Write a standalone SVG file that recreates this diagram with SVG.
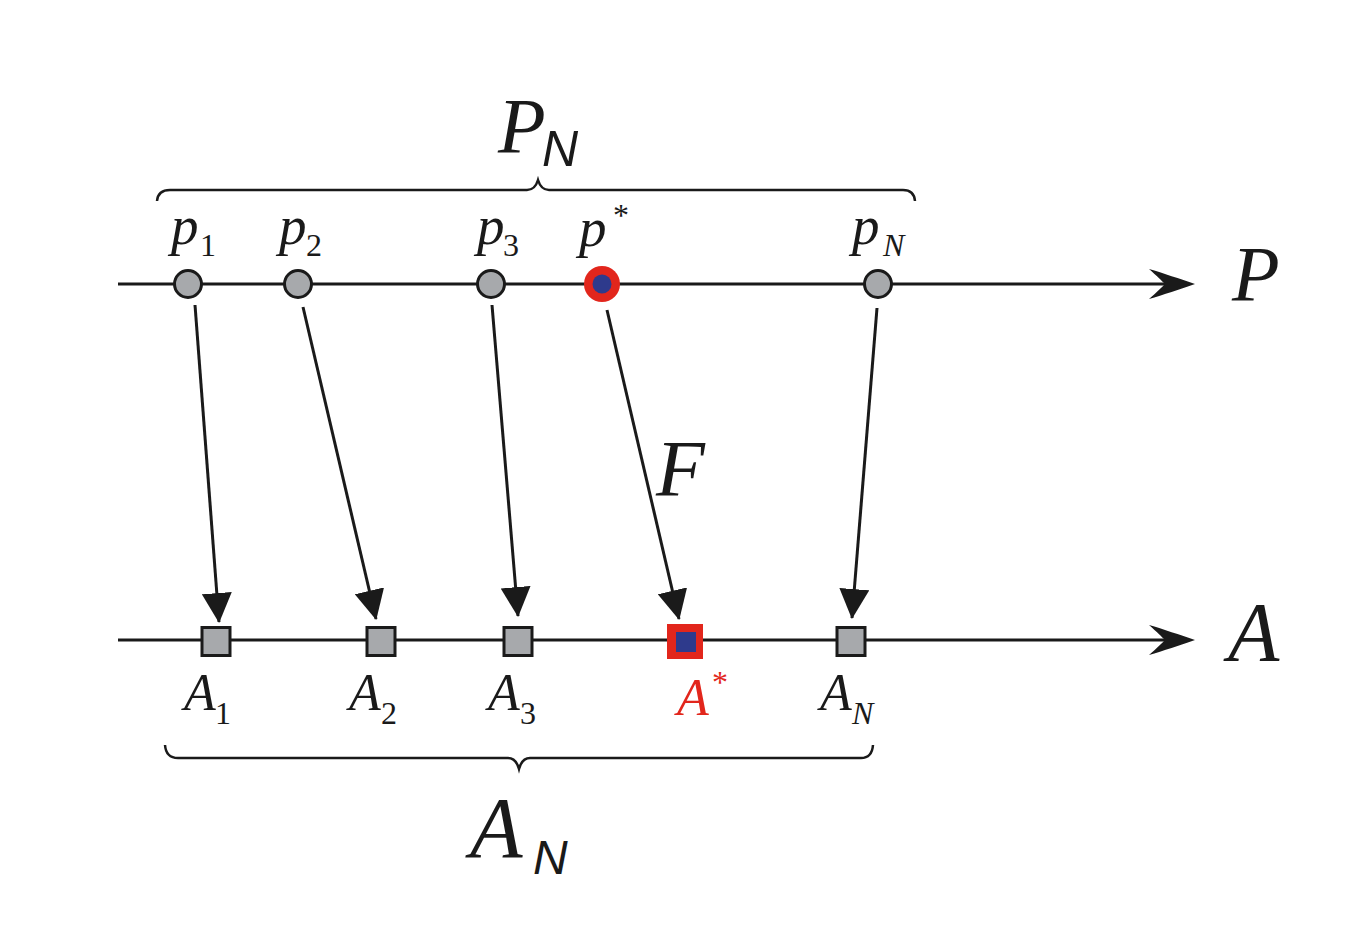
<svg xmlns="http://www.w3.org/2000/svg" width="1348" height="948" viewBox="0 0 1348 948">
<style>
.ax{stroke:#1a1a1a;stroke-width:3;fill:none}
.br{stroke:#1a1a1a;stroke-width:2.5;fill:none}
.cn{stroke:#1a1a1a;stroke-width:3;fill:none}
.pt{fill:#a7a9ac;stroke:#1a1a1a;stroke-width:3}
.lab{font-family:"Liberation Serif",serif;font-style:italic;fill:#1a1a1a}
.sub{font-family:"Liberation Serif",serif;font-style:normal;fill:#1a1a1a}
.cal{font-family:"Liberation Serif",serif;font-style:italic;fill:#1a1a1a}
.sn{font-family:"Liberation Sans",sans-serif;font-style:italic;fill:#1a1a1a}
.red{fill:#e2261c}
.blue{fill:#2e3a8c}
</style>
<defs>
<marker id="ah" markerUnits="userSpaceOnUse" markerWidth="30" markerHeight="30" viewBox="0 0 28 28" refX="27" refY="14" orient="auto">
<path d="M0,0 L28,14 L0,28 Z" fill="#1a1a1a"/>
</marker>
</defs>
<rect width="1348" height="948" fill="#ffffff"/>

<g id="axis-P">
<line class="ax" x1="118" y1="284" x2="1170" y2="284"/>
<path d="M1195,284 C1180,279 1163,273 1149,269 C1157,276 1162,281 1165,284 C1162,287 1157,292 1149,299 C1163,295 1180,289 1195,284 Z" fill="#1a1a1a"/>
<text class="cal" x="1232" y="300" font-size="78">P</text>
</g>
<g id="axis-A">
<line class="ax" x1="118" y1="640" x2="1170" y2="640"/>
<path d="M1195,640 C1180,635 1163,629 1149,625 C1157,632 1162,637 1165,640 C1162,643 1157,648 1149,655 C1163,651 1180,645 1195,640 Z" fill="#1a1a1a"/>
<text class="cal" x="1228" y="661" font-size="84">A</text>
</g>

<g id="brace-PN">
<path class="br" d="M157,201 Q158,190 170,190 L527,190 Q535,190 538,180 Q541,190 549,190 L903,190 Q914,190 915,201"/>
<text class="cal" x="498" y="152" font-size="78">P</text>
<text class="sn" x="542" y="166" font-size="50">N</text>
</g>
<g id="brace-AN">
<path class="br" d="M165,745 Q166,758 178,758 L508,758 Q516,758 519,769 Q522,758 530,758 L861,758 Q872,758 873,745"/>
<text class="cal" x="470" y="857" font-size="86">A</text>
<text class="sn" x="533" y="874" font-size="48">N</text>
</g>

<g id="connectors">
<line class="cn" x1="195" y1="305" x2="219" y2="622" marker-end="url(#ah)"/>
<line class="cn" x1="303" y1="307" x2="376" y2="619" marker-end="url(#ah)"/>
<line class="cn" x1="492" y1="305" x2="518" y2="616" marker-end="url(#ah)"/>
<line class="cn" x1="607" y1="310" x2="679" y2="619" marker-end="url(#ah)"/>
<line class="cn" x1="877" y1="308" x2="852" y2="618" marker-end="url(#ah)"/>
<text class="lab" x="656" y="496" font-size="80">F</text>
</g>

<g id="p1">
<circle class="pt" cx="188" cy="284" r="13.5"/>
<text class="lab" x="171" y="244" font-size="55">p</text>
<text class="sub" x="200" y="256" font-size="32">1</text>
</g>
<g id="p2">
<circle class="pt" cx="298" cy="284" r="13.5"/>
<text class="lab" x="279" y="244" font-size="55">p</text>
<text class="sub" x="306" y="256" font-size="32">2</text>
</g>
<g id="p3">
<circle class="pt" cx="491" cy="284" r="13.5"/>
<text class="lab" x="477" y="244" font-size="55">p</text>
<text class="sub" x="503" y="256" font-size="32">3</text>
</g>
<g id="pstar">
<circle class="red" cx="602" cy="284" r="18"/>
<circle class="blue" cx="602" cy="284" r="9.5"/>
<text class="lab" x="579" y="246" font-size="55">p</text>
<text class="sub" x="613" y="226" font-size="32">*</text>
</g>
<g id="pN">
<circle class="pt" cx="878" cy="284" r="13.5"/>
<text class="lab" x="852" y="244" font-size="55">p</text>
<text class="lab" x="883" y="256" font-size="32">N</text>
</g>

<g id="A1">
<rect class="pt" x="202" y="627.5" width="28" height="28"/>
<text class="lab" x="184" y="710" font-size="52">A</text>
<text class="sub" x="215" y="724" font-size="32">1</text>
</g>
<g id="A2">
<rect class="pt" x="367" y="627.5" width="28" height="28"/>
<text class="lab" x="349" y="710" font-size="52">A</text>
<text class="sub" x="381" y="724" font-size="32">2</text>
</g>
<g id="A3">
<rect class="pt" x="504" y="627.5" width="28" height="28"/>
<text class="lab" x="488" y="710" font-size="52">A</text>
<text class="sub" x="520" y="724" font-size="32">3</text>
</g>
<g id="Astar">
<rect class="red" x="667" y="624" width="36" height="35"/>
<rect class="blue" x="676" y="632" width="20" height="20"/>
<text class="lab red" x="677" y="715" font-size="52">A</text>
<text class="sub red" x="712" y="693" font-size="32">*</text>
</g>
<g id="AN">
<rect class="pt" x="837" y="627.5" width="28" height="28"/>
<text class="lab" x="820" y="710" font-size="52">A</text>
<text class="lab" x="852" y="724" font-size="32">N</text>
</g>
</svg>
